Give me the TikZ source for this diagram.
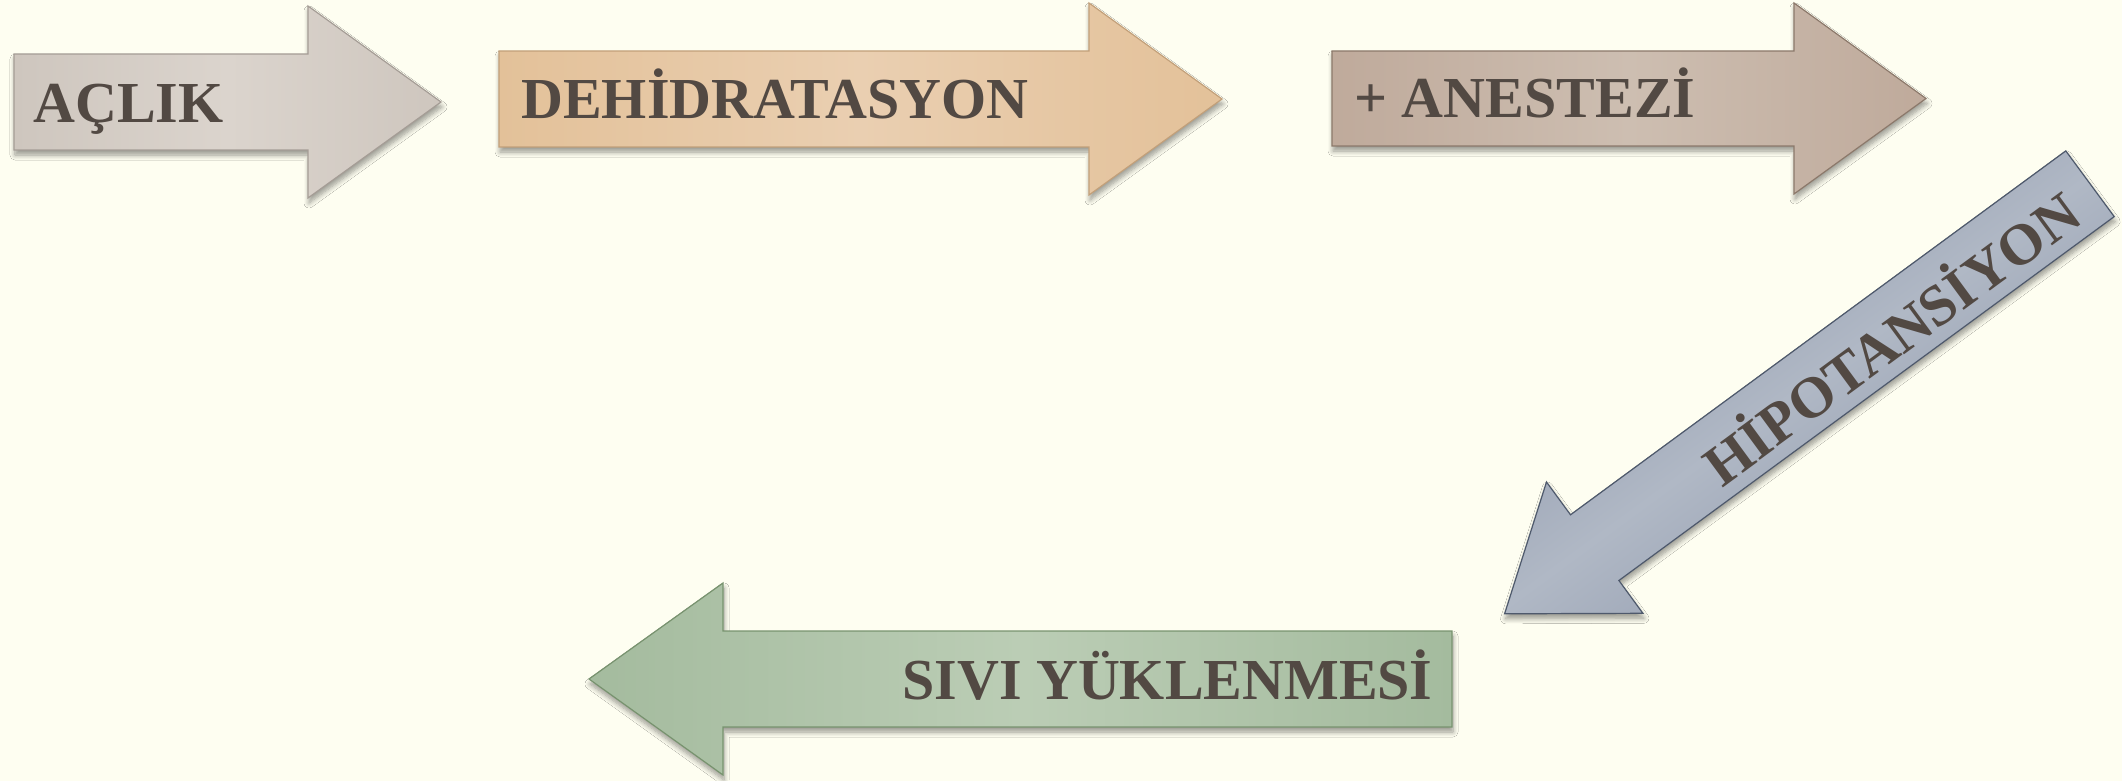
\documentclass[tikz,border=0pt]{standalone}
\usepackage{fontspec}
\setmainfont{Liberation Serif}
\usetikzlibrary{shadows.blur}

\definecolor{bg}{HTML}{FEFEF1}
\definecolor{ink}{HTML}{524943}
% arrow palettes: edge, centre, outline
\definecolor{aE}{HTML}{CEC6BE}\definecolor{aM}{HTML}{DBD4CD}\definecolor{aB}{HTML}{A59D96}
\definecolor{bE}{HTML}{E3C199}\definecolor{bM}{HTML}{EACFB1}\definecolor{bB}{HTML}{C2A07A}
\definecolor{cE}{HTML}{BFAA9B}\definecolor{cM}{HTML}{CDBEB1}\definecolor{cB}{HTML}{8C796B}
\definecolor{dE}{HTML}{8892A7}\definecolor{dM}{HTML}{B0B8C5}\definecolor{dB}{HTML}{4E596C}
\definecolor{eE}{HTML}{A4BB9E}\definecolor{eM}{HTML}{BBCDB5}\definecolor{eB}{HTML}{78936F}

\tikzset{
  flowarrow/.style n args={3}{line width=0.6pt, line join=miter, draw=#3,
    left color=#1, right color=#1, middle color=#2,
    blur shadow={shadow xshift=0.5pt, shadow yshift=-2.5pt,
      shadow opacity=40, shadow blur steps=8, shadow blur radius=2.5pt}},
  steptext/.style={text=ink, inner sep=0pt,
    font=\fontsize{29}{29}\selectfont\bfseries},
}

\begin{document}
\begin{tikzpicture}[x=0.5pt, y=-0.5pt]
  \useasboundingbox[fill=bg] (0,0) rectangle (2122,781);

  % top row, pointing right
  \path[flowarrow={aE}{aM}{aB}]
    (14,54) -- (308,54) -- (308,6) -- (441,102) -- (308,198) -- (308,150) -- (14,150) -- cycle;
  \path[flowarrow={bE}{bM}{bB}]
    (499,51) -- (1089,51) -- (1089,3) -- (1222,99) -- (1089,195) -- (1089,147) -- (499,147) -- cycle;
  \path[flowarrow={cE}{cM}{cB}]
    (1332,51) -- (1794,51) -- (1794,3) -- (1926,98.5) -- (1794,194) -- (1794,146) -- (1332,146) -- cycle;

  % diagonal, pointing down-left
  \path[flowarrow={dE}{dM}{dB}, shading angle=36.3]
    (1504.6,613.8) -- (1546.5,482.0) -- (1570.5,514.8) -- (2065.8,150.9)
    -- (2114.2,216.6) -- (1618.9,580.5) -- (1642.9,613.3) -- cycle;

  % bottom, pointing left
  \path[flowarrow={eE}{eM}{eB}]
    (1452,631) -- (723,631) -- (723,583) -- (589,679) -- (723,775) -- (723,727) -- (1452,727) -- cycle;

  \node[steptext, anchor=base west] (aclik) at (33,123) {AÇLIK};
  \node[steptext, anchor=base west] (dehid) at (521,119) {DEHİDRATASYON};
  \node[steptext, anchor=base west] (anest) at (1354,118) {+ ANESTEZİ};
  \node[steptext, rotate=36.3] (hipot) at (1889,335) {HİPOTANSİYON};
  \node[steptext, anchor=base west] (sivi) at (902,699) {SIVI YÜKLENMESİ};
\end{tikzpicture}
\end{document}
